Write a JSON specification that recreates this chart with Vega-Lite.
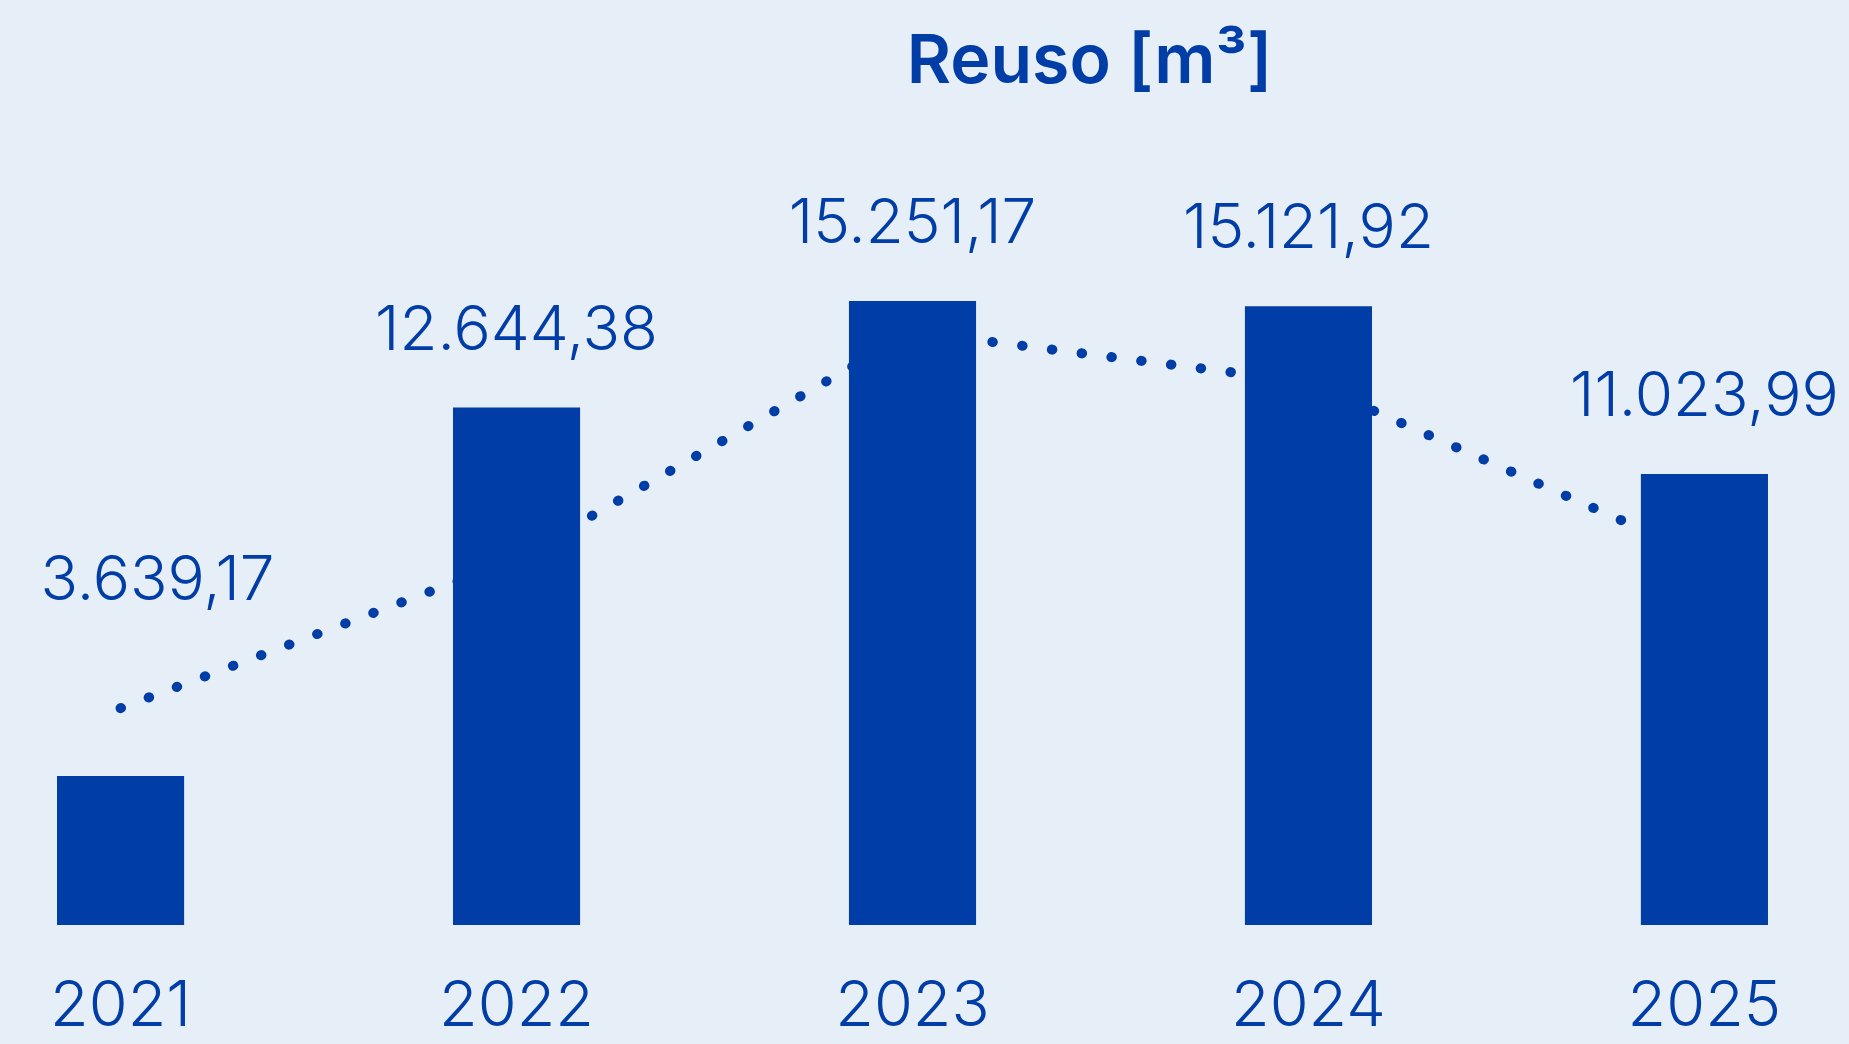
{
  "$schema": "https://vega.github.io/schema/vega-lite/v6.json",
  "autosize": "none",
  "width": 1825,
  "height": 700,
  "padding": {"left": 0, "top": 225, "right": 24, "bottom": 119},
  "background": "#E6EEF8",
  "config": {
    "view": {"stroke": null},
    "locale": {"number": {"decimal": ",", "thousands": ".", "grouping": [3], "currency": ["R$", ""]}}
  },
  "title": {
    "text": "Reuso [m³]",
    "font": "Inter",
    "fontSize": 68,
    "fontWeight": 600,
    "color": "#003DA6",
    "anchor": "middle",
    "baseline": "alphabetic",
    "offset": 42,
    "dx": 177
  },
  "data": {
    "values": [
      {"ano": "2021", "reuso": 3639.17, "tendencia": 5300},
      {"ano": "2022", "reuso": 12644.38, "tendencia": 8944},
      {"ano": "2023", "reuso": 15251.17, "tendencia": 14492},
      {"ano": "2024", "reuso": 15121.92, "tendencia": 13270},
      {"ano": "2025", "reuso": 11023.99, "tendencia": 8993}
    ]
  },
  "encoding": {
    "x": {
      "field": "ano",
      "type": "nominal",
      "scale": {"paddingInner": 0.679, "paddingOuter": 0.144},
      "axis": {
        "title": null,
        "domain": false,
        "ticks": false,
        "tickSize": 0,
        "labelAngle": 0,
        "labelFont": "Inter",
        "labelFontSize": 63,
        "labelFontWeight": 300,
        "labelColor": "#003DA6",
        "labelBaseline": "alphabetic",
        "labelPadding": 100,
        "grid": false
      }
    }
  },
  "layer": [
    {
      "mark": {"type": "line", "color": "#003DA6", "strokeWidth": 10, "strokeDash": [0.5, 29.5], "strokeCap": "round"},
      "encoding": {
        "y": {"field": "tendencia", "type": "quantitative", "scale": {"domain": [0, 17106], "nice": false}, "axis": null}
      }
    },
    {
      "mark": {"type": "bar", "color": "#003DA6"},
      "encoding": {
        "y": {"field": "reuso", "type": "quantitative", "scale": {"domain": [0, 17106], "nice": false}, "axis": null}
      }
    },
    {
      "transform": [{"filter": "datum.ano == '2021'"}],
      "mark": {"type": "text", "color": "#003DA6", "font": "Inter", "fontSize": 62, "fontWeight": 300, "baseline": "alphabetic", "align": "left", "dx": -80, "dy": -176},
      "encoding": {
        "y": {"field": "reuso", "type": "quantitative", "scale": {"domain": [0, 17106], "nice": false}, "axis": null},
        "text": {"field": "reuso", "type": "quantitative", "format": ",.2f"}
      }
    },
    {
      "transform": [{"filter": "datum.ano != '2021'"}],
      "mark": {"type": "text", "color": "#003DA6", "font": "Inter", "fontSize": 62, "fontWeight": 300, "baseline": "alphabetic", "align": "center", "dy": -58},
      "encoding": {
        "y": {"field": "reuso", "type": "quantitative", "scale": {"domain": [0, 17106], "nice": false}, "axis": null},
        "text": {"field": "reuso", "type": "quantitative", "format": ",.2f"}
      }
    }
  ]
}
